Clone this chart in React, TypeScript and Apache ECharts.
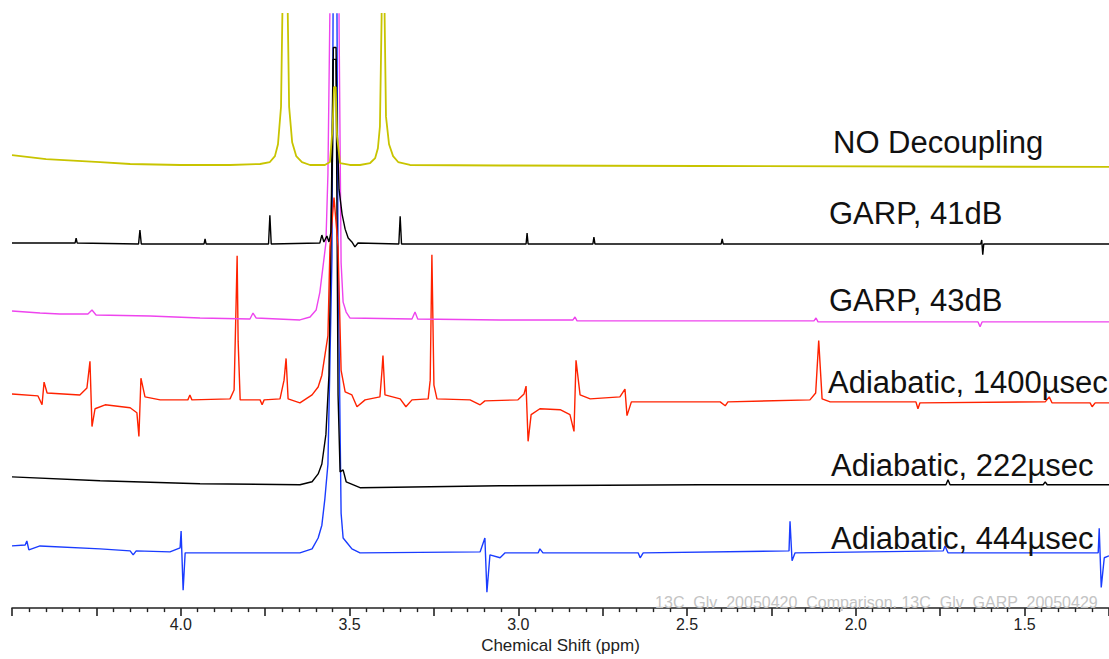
import React, { useEffect, useRef } from "react";
import * as echarts from "echarts";

// x: chemical shift (ppm), y: intensity relative to each trace's own baseline
const traceNames = [
  "NO Decoupling",
  "GARP, 41dB",
  "GARP, 43dB",
  "Adiabatic, 1400µsec",
  "Adiabatic, 222µsec",
  "Adiabatic, 444µsec",
];
const traceColors = ["#c8c400", "#000000", "#ee44ee", "#ff2200", "#000000", "#1a3cff"];
const traceOffsets = [448, 369, 290, 210, 124, 56];

const noDecoupling: number[][] = [
  [4.5, 11], [4.399, 7], [4.239, 4], [4.15, 2], [4.002, 1], [3.854, 1], [3.765, 2], [3.736, 4],
  [3.721, 10], [3.712, 22], [3.703, 60], [3.697, 200], [3.691, 420], [3.685, 200], [3.679, 60],
  [3.67, 24], [3.658, 10], [3.641, 4], [3.617, 1], [3.573, 1], [3.558, 4], [3.55, 40], [3.546, 80],
  [3.541, 80], [3.537, 30], [3.528, 3], [3.499, 1], [3.469, 1], [3.439, 3], [3.424, 8], [3.416, 18],
  [3.41, 40], [3.405, 150], [3.401, 420], [3.396, 150], [3.392, 50], [3.383, 22], [3.371, 10],
  [3.356, 4], [3.321, 1], [3.054, 0.5], [2.461, 0], [1.25, -1],
];
const garp41: number[][] = [
  [4.5, 1], [4.313, 1], [4.31, 6], [4.307, 1], [4.125, 0], [4.121, 14], [4.117, 0], [3.931, 0],
  [3.928, 5], [3.925, 0], [3.74, 0], [3.736, 29], [3.732, 0], [3.588, 1], [3.582, 9], [3.576, 2],
  [3.567, 8], [3.561, 2], [3.555, 12], [3.55, 100], [3.548, 199], [3.54, 199], [3.537, 120],
  [3.531, 55], [3.522, 30], [3.513, 15], [3.504, 6], [3.493, 2], [3.484, -3], [3.475, 1],
  [3.354, 0], [3.35, 28], [3.346, 0], [2.977, 0], [2.974, 11], [2.971, 0], [2.779, 0], [2.776, 7],
  [2.773, 0], [2.399, 0], [2.396, 5], [2.393, 0], [1.63, 0], [1.627, 4], [1.624, -11], [1.621, 0],
  [1.25, 0],
];
const garp43: number[][] = [
  [4.5, 11], [4.417, 9], [4.358, 8], [4.275, 8], [4.263, 12], [4.251, 7], [4.091, 6], [3.943, 4],
  [3.795, 3], [3.786, 9], [3.777, 4], [3.647, 2], [3.617, 5], [3.599, 12], [3.588, 30], [3.579, 55],
  [3.57, 80], [3.564, 150], [3.558, 320], [3.555, 700], [3.534, 700], [3.531, 300], [3.525, 60],
  [3.519, 20], [3.51, 10], [3.499, 4], [3.315, 3], [3.306, 10], [3.298, 3], [3.054, 2], [2.838, 2],
  [2.832, 5], [2.826, 1], [2.461, 1], [2.124, 1], [2.118, 4], [2.112, 0], [1.638, 0], [1.632, -5],
  [1.626, 0], [1.25, 0],
];
const adiabatic1400: number[][] = [
  [4.5, 7], [4.423, 5], [4.411, -4], [4.405, 19], [4.396, 8], [4.299, 6], [4.278, 13], [4.269, 40],
  [4.263, -26], [4.254, -8], [4.224, -4], [4.15, -7], [4.13, -12], [4.124, -36], [4.118, 23],
  [4.106, 4], [4.061, 1], [3.979, 1], [3.973, 6], [3.967, 1], [3.854, 2], [3.842, 11], [3.836, 100],
  [3.833, 147], [3.83, 60], [3.824, 1], [3.765, 1], [3.759, -4], [3.753, 1], [3.706, 2], [3.694, 21],
  [3.688, 43], [3.682, 2], [3.647, -2], [3.611, 6], [3.593, 14], [3.582, 26], [3.573, 46],
  [3.564, 66], [3.558, 156], [3.546, 206], [3.534, 156], [3.525, 31], [3.513, 9], [3.493, 6],
  [3.478, -6], [3.454, 1], [3.41, 4], [3.404, 30], [3.401, 46], [3.395, 6], [3.35, 2], [3.333, -6],
  [3.315, 1], [3.267, 2], [3.261, 21], [3.256, 148], [3.25, 16], [3.241, 2], [3.143, 1],
  [3.113, -4], [3.099, 0], [3.001, 1], [2.983, 7], [2.977, 15], [2.971, -41], [2.962, -14],
  [2.936, -8], [2.876, -9], [2.847, -14], [2.835, -31], [2.829, 41], [2.817, 6], [2.787, 2],
  [2.699, 4], [2.684, 12], [2.678, -15], [2.665, -1], [2.402, -1], [2.387, -5], [2.379, -1],
  [2.136, 1], [2.119, 8], [2.11, 61], [2.1, 2], [2.076, -1], [1.822, -1], [1.816, -8], [1.81, -2],
  [1.439, -1], [1.427, 4], [1.419, -2], [1.306, -2], [1.3, -6], [1.291, -2], [1.25, -2],
];
const adiabatic222: number[][] = [
  [4.5, 9], [4.239, 5], [3.943, 2], [3.647, 1], [3.611, 4], [3.593, 12], [3.582, 22], [3.57, 52],
  [3.561, 112], [3.555, 250], [3.549, 432], [3.54, 432], [3.534, 92], [3.528, 14], [3.519, 16],
  [3.51, 4], [3.469, -2], [3.054, 0], [2.461, 1], [1.733, 1], [1.727, 6], [1.721, 1], [1.445, 1],
  [1.439, 4], [1.433, 1], [1.25, 1],
];
const adiabatic444: number[][] = [
  [4.5, 7], [4.461, 8], [4.456, 12], [4.45, 3], [4.417, 7], [4.239, 4], [4.15, 2], [4.141, -2],
  [4.132, 2], [4.032, 1], [4.002, 5], [3.999, 22], [3.993, -38], [3.987, 0], [3.647, 0], [3.611, 4],
  [3.593, 15], [3.582, 28], [3.573, 55], [3.564, 90], [3.552, 300], [3.546, 760], [3.54, 760],
  [3.534, 300], [3.525, 40], [3.519, 15], [3.507, 10], [3.493, 4], [3.469, 0], [3.113, 1],
  [3.099, 15], [3.093, -40], [3.084, -2], [3.054, -5], [3.039, 0], [2.941, 0], [2.936, 4],
  [2.927, 0], [2.645, 0], [2.639, -5], [2.63, 0], [2.198, 2], [2.195, 32], [2.189, -8], [2.18, 0],
  [1.741, 2], [1.736, 7], [1.727, 0], [1.282, 0], [1.279, 25], [1.273, -35], [1.264, -5],
  [1.25, -3],
];
const traces = [noDecoupling, garp41, garp43, adiabatic1400, adiabatic222, adiabatic444];

const axisName = "Chemical Shift (ppm)";
const footnote = "13C  Glv  20050420  Comparison. 13C  Glv  GARP  20050429";
const labelCenters = [144, 215, 302, 384, 467, 540];
const labelLefts = [833, 829, 829, 828, 831, 831];

export default function App() {
  const ref = useRef<HTMLDivElement>(null);
  useEffect(() => {
    if (!ref.current) return;
    const chart = echarts.init(ref.current, null, { renderer: "svg" });
    // draw order: bottom trace first so upper traces sit on top
    const order = [5, 4, 3, 2, 1, 0];
    const series = order.map((i) => ({
      type: "line",
      name: traceNames[i],
      data: traces[i].map((p) => [p[0], traceOffsets[i] + p[1]]),
      symbol: "none",
      clip: true,
      silent: true,
      z: 2 + (5 - i),
      lineStyle: { color: traceColors[i], width: i === 0 ? 1.8 : 1.4 },
    }));
    const labels = traceNames.map((t, i) => ({
      type: "text",
      left: labelLefts[i],
      top: labelCenters[i] - 17,
      z: 20,
      style: {
        text: t,
        fill: "#111",
        font: "31px 'Liberation Sans', Arial, sans-serif",
      },
    }));
    chart.setOption({
      animation: false,
      backgroundColor: "#ffffff",
      grid: { left: 12, right: 0, top: 14, bottom: 43 },
      xAxis: {
        type: "value",
        min: 1.25,
        max: 4.5,
        interval: 0.25,
        inverse: true,
        name: axisName,
        nameLocation: "middle",
        nameGap: 28,
        nameTextStyle: { fontSize: 17, color: "#222", fontFamily: "'Liberation Sans', Arial, sans-serif" },
        axisLine: { onZero: false, lineStyle: { color: "#222", width: 1.6 } },
        axisTick: { length: 8, lineStyle: { color: "#222", width: 1.6 } },
        minorTick: { show: true, splitNumber: 5, length: 4, lineStyle: { color: "#222", width: 1.4 } },
        splitLine: { show: false },
        minorSplitLine: { show: false },
        axisLabel: {
          showMinLabel: false,
          showMaxLabel: false,
          margin: 8,
          fontSize: 16,
          color: "#222",
          fontFamily: "'Liberation Sans', Arial, sans-serif",
          formatter: (v: number) => (Math.abs(v * 2 - Math.round(v * 2)) < 1e-6 ? v.toFixed(1) : ""),
        },
      },
      yAxis: { type: "value", min: 0, max: 602, show: false },
      series,
      graphic: [
        ...labels,
        {
          type: "text",
          right: 11,
          top: 594,
          z: 20,
          style: {
            text: footnote,
            fill: "#c4c4c4",
            font: "16px 'Liberation Sans', Arial, sans-serif",
          },
        },
      ],
    });
    return () => chart.dispose();
  }, []);
  return (
    <div
      ref={ref}
      style={{ position: "fixed", left: 0, top: 0, width: 1109, height: 659, background: "#fff" }}
    />
  );
}
